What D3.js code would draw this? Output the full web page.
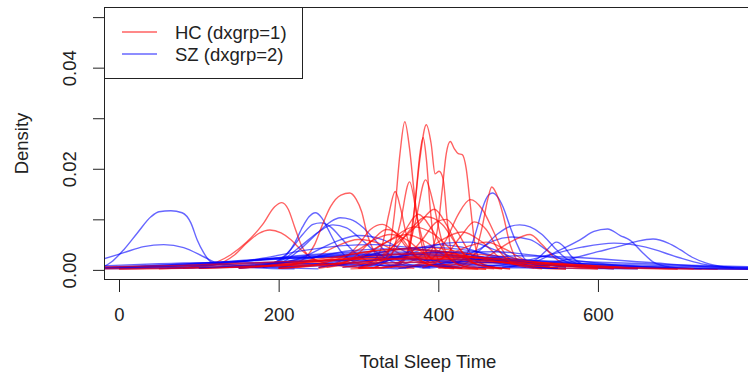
<!DOCTYPE html>
<html>
<head>
<meta charset="utf-8">
<script src="https://cdn.jsdelivr.net/npm/d3@7"></script>
<style>
  body { margin: 0; background: #fff; }
  svg { display: block; font-family: "Liberation Sans", Arial, Helvetica, sans-serif; }
</style>
</head>
<body>
<svg id="chart" width="748" height="380"></svg>
<script>
// density curves per subject, points are [total sleep time, density x 1000]
const hcCurves = [
  [[290,0.2],[320,0.5],[335,2.5],[345,11],[352,23],[358,29.3],[364,24],[370,15],[378,6],[388,1.5],[410,0.4],[460,0.1]],
  [[320,0.3],[350,1],[362,4],[370,12],[377,22],[385,28.7],[391,25],[396,19],[401,19.5],[406,18],[411,10],[417,3],[430,0.8],[470,0.2]],
  [[330,0.3],[355,1.5],[365,5],[372,15],[377,23],[381,26.2],[385,22],[390,12],[396,4],[405,1],[430,0.3]],
  [[350,0.3],[380,1.5],[392,4],[400,9],[405,16],[410,23],[415,25.4],[420,24],[425,23],[430,22.8],[435,20],[440,13],[446,5],[455,1.2],[480,0.3]],
  [[60,0.3],[110,1],[140,3],[160,5.5],[180,9],[195,12.5],[204,13.3],[212,12],[220,8.5],[228,5],[240,2.5],[270,1],[320,0.3]],
  [[80,0.3],[120,1],[145,3],[160,5.3],[175,7.2],[189,7.9],[203,7.3],[215,6],[228,4],[245,2],[280,0.8],[330,0.3]],
  [[200,0.5],[230,2],[245,5],[255,9],[265,12.5],[278,14.8],[289,15.2],[297,14],[304,11.5],[311,7],[320,3.5],[335,1.2],[370,0.3]],
  [[300,0.5],[320,2],[330,5],[338,11],[346,15.5],[353,12],[360,7],[370,3],[390,1],[420,0.3]],
  [[320,0.5],[340,2.5],[352,9],[364,17.4],[374,10],[384,4],[400,1],[430,0.3]],
  [[340,0.5],[360,3],[372,10],[384,17.8],[394,13],[404,6],[415,2],[440,0.4]],
  [[400,0.3],[430,1],[445,3],[455,8.5],[462,14],[467,16.4],[473,15],[481,11],[490,5],[500,1.8],[520,0.5],[560,0.1]],
  [[360,0.5],[390,2],[410,6],[425,11],[440,13.9],[455,12],[468,8],[480,4],[495,1.5],[520,0.4]],
  [[250,0.5],[280,2],[300,5],[315,8],[330,9],[345,7.5],[360,4.5],[380,1.5],[410,0.4]],
  [[330,0.5],[360,2.5],[380,6],[398,9.5],[410,10],[422,8],[435,4.5],[450,1.5],[480,0.3]],
  [[200,0.5],[240,2],[270,4.5],[300,6],[330,5],[360,2.5],[400,0.8],[450,0.2]],
  [[260,0.5],[300,2],[330,5],[360,7],[385,5.5],[410,2.5],[440,0.8],[480,0.2]],
  [[340,0.5],[370,2],[400,5.5],[430,7.5],[455,5.5],[480,2],[510,0.5]],
  [[200,0.3],[280,1.5],[330,3.5],[380,4.5],[430,3.5],[480,1.5],[550,0.3]],
  [[50,0.2],[150,0.8],[250,1.8],[350,2.5],[450,2],[550,0.8],[650,0.2]],
  [[0,0.1],[120,0.4],[250,1],[420,1.6],[550,1.1],[650,0.4],[750,0.1]],
  [[150,0.3],[250,1.5],[330,3],[400,3.5],[470,2.8],[550,1],[620,0.2]],
  [[360,0.3],[400,2],[440,4.8],[460,5.5],[485,4],[510,1.8],[550,0.3]],
  [[-20,0.4],[100,0.8],[200,1.4],[300,2],[400,2.2],[500,1.6],[600,0.8],[700,0.3],[790,0.1]],
  [[430,0.5],[460,2.5],[490,5.5],[515,7],[530,5],[545,2.5],[565,0.8],[600,0.2]],
  [[300,0.3],[400,1],[500,1.5],[600,0.8],[650,0.3],[700,0.1]],
  [[-20,0.2],[150,0.6],[300,1.5],[380,2.8],[450,2.4],[550,1],[650,0.3]],
  [[100,0.3],[200,1.2],[280,2.8],[340,4],[400,3.6],[460,2],[530,0.6],[600,0.2]],
  [[250,0.5],[300,2.5],[340,6],[370,8.5],[395,7],[420,3.5],[450,1],[490,0.2]],
  [[280,0.5],[320,2],[350,5.5],[375,9],[395,12],[410,9],[425,4.5],[445,1.3],[480,0.2]],
  [[200,0.3],[260,1.5],[300,4],[320,6],[340,7],[360,6],[380,3.5],[410,1],[450,0.2]],
  [[100,0.3],[200,1],[300,2.5],[380,3.2],[450,2.5],[530,1],[620,0.3]],
  [[150,0.4],[250,1.8],[320,3.8],[360,4.2],[410,3.5],[480,1.5],[560,0.3]],
  [[-20,0.6],[80,0.9],[200,1.6],[320,2.2],[420,2],[520,1.2],[620,0.5],[720,0.2]],
  [[300,0.5],[330,2.5],[355,7],[375,11],[392,8],[410,3],[430,0.8],[460,0.2]],
  [[380,0.5],[410,3],[430,7],[445,9.5],[460,8],[475,4],[495,1.2],[530,0.2]],
  [[300,0.3],[340,3],[365,8],[385,10.5],[405,9],[425,4.5],[450,1],[490,0.2]],
  [[250,0.3],[290,2],[315,5.5],[335,8],[350,7],[365,4],[385,1.2],[420,0.2]],
  [[200,0.3],[300,1.5],[400,2.6],[480,2.2],[560,1],[640,0.3]]
];

const szCurves = [
  [[-40,0.1],[-20,0.6],[-10,1.5],[6,4],[23,7.3],[40,10.5],[50,11.5],[65,11.7],[79,11.3],[90,9.3],[98,5.9],[106,3.4],[115,1.6],[130,0.9],[160,0.5],[220,0.2]],
  [[-40,1.2],[-19,2.2],[6,3.4],[31,4.6],[56,5],[81,4.4],[106,2.6],[119,1.6],[140,1],[180,0.6],[250,0.2]],
  [[150,0.3],[190,1.2],[210,3],[220,5.3],[230,8.5],[238,10.5],[246,11.3],[254,10.3],[262,8],[272,5],[285,2.5],[310,0.8],[350,0.2]],
  [[150,0.3],[195,1.5],[215,4],[230,7],[243,9],[253,9.3],[265,8.5],[280,6],[295,3.5],[320,1.2],[360,0.3]],
  [[180,0.5],[210,2],[230,4.5],[250,7.5],[265,9.5],[277,10.3],[290,10],[305,8.5],[320,6],[335,3.5],[355,1.5],[390,0.4]],
  [[170,0.5],[205,2],[230,5],[250,7.5],[268,8.9],[285,8.3],[300,6.5],[318,4],[340,1.8],[380,0.4]],
  [[180,0.5],[230,2.5],[270,5.5],[300,6.8],[330,6],[360,3.5],[390,1.5],[430,0.4]],
  [[380,0.3],[420,1],[435,3],[442,5],[449,8.5],[456,12.5],[463,14.8],[468,15.2],[474,14.5],[481,12.5],[490,8.5],[500,4.6],[508,2.2],[525,0.8],[560,0.2]],
  [[380,0.5],[420,1.5],[445,3],[460,5],[475,7.2],[490,8.6],[502,8.9],[515,8.5],[530,7],[545,4.5],[558,2.5],[580,1],[620,0.3]],
  [[380,0.5],[420,2],[450,4],[470,5.8],[493,6.5],[515,6],[535,4],[555,2],[580,0.8],[620,0.2]],
  [[480,0.5],[510,1.2],[525,2.3],[535,3.8],[548,5.5],[558,4.5],[566,2.8],[580,1.2],[610,0.3]],
  [[480,0.5],[520,1.5],[548,3.6],[577,5.9],[595,7.6],[612,8.1],[628,6.8],[640,5.9],[656,3.4],[669,1.6],[690,0.6],[730,0.2]],
  [[520,0.8],[560,2],[600,3.6],[630,4.8],[650,5.7],[669,6.1],[688,5.3],[703,4],[718,2.5],[735,1.4],[760,0.6],[800,0.2]],
  [[450,0.5],[500,1.5],[540,3],[580,4.5],[620,5.3],[660,4.5],[700,2.5],[730,1.2],[770,0.4]],
  [[50,0.3],[120,1],[180,2.3],[230,3.8],[280,4.8],[320,5],[360,4.5],[420,2.8],[480,1.2],[550,0.3]],
  [[0,0.3],[80,0.8],[160,1.8],[240,3],[320,3.6],[400,3.2],[480,2],[560,0.9],[650,0.3]],
  [[-20,0.5],[60,1],[150,1.7],[260,2.5],[380,2.6],[480,2],[580,1.2],[680,0.5],[790,0.15]],
  [[-20,0.3],[100,0.6],[250,1.2],[400,1.5],[550,1.3],[700,0.8],[790,0.5]],
  [[300,0.5],[340,2],[370,4],[400,5],[430,4.5],[460,3],[500,1.2],[550,0.3]],
  [[280,0.5],[330,1.5],[370,3.5],[410,5.3],[440,5.5],[470,4],[500,2],[540,0.6]],
  [[200,0.4],[280,1.8],[340,3.8],[390,4.5],[440,3.8],[500,1.8],[560,0.5]],
  [[-20,0.2],[150,0.5],[350,1],[550,0.9],[700,0.6],[790,0.4]],
  [[-20,0.8],[50,1.2],[150,1.5],[250,1.2],[350,0.8],[500,0.4],[650,0.2]],
  [[-20,0.4],[80,1],[180,2],[280,2.8],[380,3],[470,2.4],[560,1.4],[660,0.6],[790,0.2]],
  [[-20,0.3],[120,1.2],[220,2.6],[300,3.2],[380,3],[460,2],[540,1],[640,0.3]],
  [[0,0.5],[100,1.3],[200,2.3],[280,2.6],[360,2.2],[460,1.5],[560,0.8],[680,0.3],[790,0.1]],
  [[150,0.5],[230,2],[290,3.8],[350,4.2],[410,3.6],[480,2],[560,0.6]],
  [[250,0.5],[330,2.2],[400,3.5],[470,3.6],[540,2.5],[620,1],[700,0.3]],
  [[-20,0.5],[100,0.9],[250,1.8],[420,2],[580,1.6],[700,1],[790,0.6]],
  [[350,0.3],[420,1.5],[500,2.8],[580,2.4],[660,1.5],[740,0.6],[800,0.3]],
  [[100,0.4],[200,1.5],[260,2.8],[310,3],[370,2.2],[450,1],[550,0.3]]
];

const xTicks = [0, 200, 400, 600];
const yTicks = [0, 0.01, 0.02, 0.03, 0.04, 0.05];
const yTickLabels = ["0.00", "", "0.02", "", "0.04", ""];
const legendLabels = ["HC (dxgrp=1)", "SZ (dxgrp=2)"];

const hcColor = "rgba(255,0,0,0.62)";
const szColor = "rgba(0,0,255,0.6)";
const fontSize = 18.5;

const svg = d3.select("#chart");
const margin = { top: 7, left: 104 };
const plotW = 648, plotH = 273;

const x = d3.scaleLinear().domain([-18.8, 793]).range([margin.left, margin.left + plotW]);
const y = d3.scaleLinear().domain([-0.002, 0.052]).range([margin.top + plotH, margin.top]);

svg.append("rect").attr("width", 748).attr("height", 380).attr("fill", "#fff");

svg.append("clipPath").attr("id", "plotclip")
  .append("rect")
  .attr("x", margin.left).attr("y", margin.top)
  .attr("width", plotW).attr("height", plotH);

const line = d3.line()
  .x(d => x(d[0]))
  .y(d => y(d[1] / 1000))
  .curve(d3.curveMonotoneX);

const curves = svg.append("g").attr("clip-path", "url(#plotclip)")
  .attr("fill", "none").attr("stroke-width", 1.4);

// draw the two groups interleaved, like a loop over subjects
const n = Math.max(hcCurves.length, szCurves.length);
for (let i = 0; i < n; i++) {
  if (hcCurves[i]) curves.append("path").attr("d", line(hcCurves[i])).attr("stroke", hcColor);
  if (szCurves[i]) curves.append("path").attr("d", line(szCurves[i])).attr("stroke", szColor);
}

// box
svg.append("rect")
  .attr("x", margin.left + 0.5).attr("y", margin.top + 0.5)
  .attr("width", plotW).attr("height", plotH - 1)
  .attr("fill", "none").attr("stroke", "#222").attr("stroke-width", 1);

// x axis
const xAxis = svg.append("g")
  .attr("transform", `translate(0,${margin.top + plotH})`)
  .call(d3.axisBottom(x).tickValues(xTicks).tickSize(12).tickSizeOuter(0).tickPadding(16)
    .tickFormat(d3.format("d")));
xAxis.select(".domain").remove();
xAxis.selectAll("line").attr("stroke", "#222");
xAxis.selectAll("text").attr("font-size", fontSize).attr("fill", "#222")
  .attr("font-family", "Liberation Sans, Arial, sans-serif");

// y axis
const yAxis = svg.append("g")
  .attr("transform", `translate(${margin.left},0)`)
  .call(d3.axisLeft(y).tickValues(yTicks).tickSize(11).tickSizeOuter(0)
    .tickFormat((d, i) => yTickLabels[i]));
yAxis.select(".domain").remove();
yAxis.selectAll("line").attr("stroke", "#222");
yAxis.selectAll("text")
  .attr("font-size", fontSize).attr("fill", "#222")
  .attr("font-family", "Liberation Sans, Arial, sans-serif")
  .attr("x", null).attr("dy", null)
  .attr("text-anchor", "middle")
  .attr("transform", "translate(-28,0) rotate(-90)");

// axis titles
svg.append("text")
  .attr("x", margin.left + plotW / 2).attr("y", 368)
  .attr("text-anchor", "middle").attr("font-size", fontSize).attr("fill", "#222")
  .text("Total Sleep Time");

svg.append("text")
  .attr("transform", `translate(28,${margin.top + plotH / 2}) rotate(-90)`)
  .attr("text-anchor", "middle").attr("font-size", fontSize).attr("fill", "#222")
  .text("Density");

// legend
const legend = svg.append("g");
legend.append("rect")
  .attr("x", margin.left + 0.5).attr("y", margin.top + 0.5)
  .attr("width", 198).attr("height", 71)
  .attr("fill", "#fff").attr("stroke", "#222");
[hcColor, szColor].forEach((c, i) => {
  const ly = 32 + i * 22;
  legend.append("line")
    .attr("x1", 122).attr("x2", 157).attr("y1", ly).attr("y2", ly)
    .attr("stroke", c).attr("stroke-width", 1.3);
  legend.append("text")
    .attr("x", 175).attr("y", ly + 7)
    .attr("font-size", fontSize).attr("fill", "#222")
    .text(legendLabels[i]);
});
</script>
</body>
</html>
